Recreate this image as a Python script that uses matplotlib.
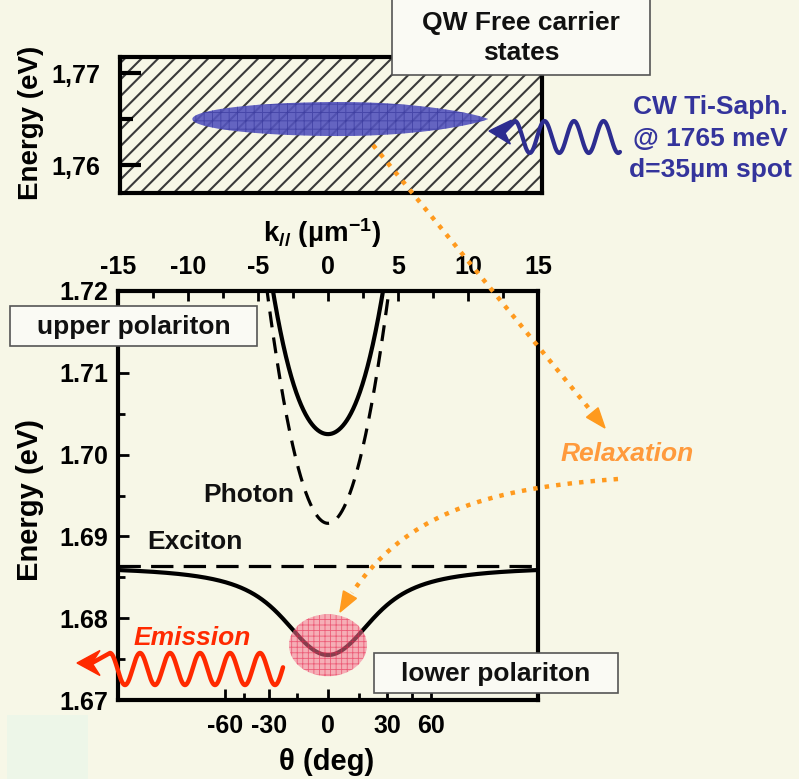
import numpy as np
import matplotlib
matplotlib.use("Agg")
import matplotlib.pyplot as plt
from matplotlib.patches import Ellipse, Rectangle, Polygon

# ---------------- values ----------------
k_ticks = [-15, -10, -5, 0, 5, 10, 15]
k_minor_ticks = [-12.5, -7.5, -2.5, 2.5, 7.5, 12.5]
energy_ticks = [1.67, 1.68, 1.69, 1.70, 1.71, 1.72]
energy_minor_ticks = [1.675, 1.685, 1.695, 1.705, 1.715]
theta_ticks = [-60, -30, 0, 30, 60]
theta_minor_ticks = [-45, -15, 15, 45]
qw_energy_ticks = [1.76, 1.77]
qw_energy_labels = ["1,76", "1,77"]
qw_minor_ticks = [1.765]

exciton_energy = 1.6864      # eV, QW exciton
photon_energy_k0 = 1.6916    # eV, cavity mode at k=0
photon_curvature = 0.0015    # eV um^2, parabolic cavity dispersion
rabi_splitting = 0.0265      # eV
hbar_c = 0.19733             # eV um
pump_energy = 1.765          # eV, CW Ti:Sapphire laser

# ---------------- style ----------------
BG = "#F7F7E7"
BOX = "#FAFAF4"
ORANGE = "#FF9A1E"
RED = "#FF2A00"
NAVY = "#2D2D90"
FONT = "Liberation Sans"

plt.rcParams.update({
    "font.family": FONT,
    "font.weight": "bold",
    "axes.unicode_minus": False,
    "mathtext.fontset": "custom",
    "mathtext.rm": "Liberation Sans:bold",
    "mathtext.it": "Liberation Sans:bold:italic",
    "mathtext.bf": "Liberation Sans:bold",
    "mathtext.default": "rm",
})

W, H = 799, 779
fig = plt.figure(figsize=(W / 100, H / 100), dpi=100, facecolor=BG)


def px_axes(x0, y0, x1, y1, **kw):
    return fig.add_axes([x0 / W, 1 - y1 / H, (x1 - x0) / W, (y1 - y0) / H], **kw)


# ---------------- polariton dispersion ----------------
k = np.linspace(-15, 15, 1501)
e_cav = photon_energy_k0 + photon_curvature * k ** 2
mean = 0.5 * (e_cav + exciton_energy)
half = 0.5 * np.sqrt((e_cav - exciton_energy) ** 2 + rabi_splitting ** 2)
upper = mean + half
lower = mean - half
lp0 = lower[np.argmin(np.abs(k))]
k_light = lp0 / hbar_c          # k = (E/hbar c) sin(theta)

ax = px_axes(118, 291, 538, 700)
ax.set_facecolor("none")
ax.set_xlim(-15, 15)
ax.set_ylim(1.67, 1.72)
axb = ax.twiny()                # emission angle axis (bottom)

ax.plot(k, lower, color="k", lw=3, zorder=2)
ax.plot(k, upper, color="k", lw=3, zorder=2)
ax.plot(k, e_cav, color="k", lw=2.3, dashes=(5, 3.2), zorder=2)
ax.axhline(exciton_energy, color="k", lw=2.3, dashes=(7, 3.2), zorder=2)

# condensed population at the bottom of the lower branch
with plt.rc_context({"hatch.linewidth": 0.6}):
    spot = Ellipse((0, lp0 + 0.0012), 78 / 14, 62 / 8180,
                   facecolor=(0.96, 0.45, 0.56, 0.55), edgecolor=(0.9, 0.15, 0.3, 0.6),
                   hatch="+++", lw=0, zorder=3)
ax.add_patch(spot)

for s in ax.spines.values():
    s.set_linewidth(3)
ax.xaxis.set_ticks_position("top")
ax.xaxis.set_label_position("top")
ax.set_xticks(k_ticks)
ax.set_xticks(k_minor_ticks, minor=True)
ax.set_xticklabels([str(v) for v in k_ticks])
ax.tick_params(axis="x", which="both", direction="in", top=True, bottom=False,
               labeltop=True, labelbottom=False, width=2, labelsize=18, pad=9)
ax.tick_params(axis="x", which="major", length=7)
ax.tick_params(axis="x", which="minor", length=5)
ax.set_yticks(energy_ticks)
ax.set_yticks(energy_minor_ticks, minor=True)
ax.set_yticklabels([f"{v:.2f}" for v in energy_ticks])
ax.tick_params(axis="y", which="both", direction="in", left=True, right=False,
               width=2, labelsize=18, pad=7)
ax.tick_params(axis="y", which="major", length=8)
ax.tick_params(axis="y", which="minor", length=5)

axb.set_xlim(-15, 15)
for s in axb.spines.values():
    s.set_visible(False)
axb.xaxis.set_ticks_position("bottom")
axb.set_xticks(k_light * np.sin(np.radians(theta_ticks)))
axb.set_xticks(k_light * np.sin(np.radians(theta_minor_ticks)), minor=True)
axb.set_xticklabels([str(v) for v in theta_ticks])
axb.tick_params(axis="x", which="both", direction="in", top=False, bottom=True,
                labeltop=False, labelbottom=True, width=2, labelsize=18, pad=10)
axb.tick_params(axis="x", which="major", length=8)
axb.tick_params(axis="x", which="minor", length=5)

# ---------------- QW free-carrier panel ----------------
axq = px_axes(120, 57, 542, 193)
axq.set_facecolor(BG)
axq.set_xlim((120 - 328) / 14, (542 - 328) / 14)
axq.set_ylim(1.75696, 1.77174)
with plt.rc_context({"hatch.linewidth": 1.5}):
    axq.add_patch(Rectangle((0, 0), 1, 1, transform=axq.transAxes, facecolor=BG,
                            edgecolor="#3a3a3a", hatch="//", lw=0, zorder=0))

# pump spot: elliptical on the left, tapering to a point on the right
tt = np.linspace(0, 2 * np.pi, 400)
u = np.cos(tt)
taper = np.where(u > 0, (1 - u ** 2) ** 0.8, np.sqrt(np.clip(1 - u ** 2, 0, None)))
spot_x = 0.86 + 10.55 * u
spot_y = pump_energy + 0.00185 * np.sign(np.sin(tt)) * taper
with plt.rc_context({"hatch.linewidth": 0.7}):
    axq.add_patch(Polygon(np.c_[spot_x, spot_y], closed=True,
                          facecolor=(0.33, 0.33, 0.74, 0.9), edgecolor=(0.2, 0.2, 0.6, 0.6),
                          hatch="++", lw=0, zorder=2))
for s in axq.spines.values():
    s.set_linewidth(3)
axq.set_xticks([])
axq.set_yticks(qw_energy_ticks)
axq.set_yticklabels(qw_energy_labels)
axq.set_yticks(qw_minor_ticks, minor=True)
axq.tick_params(axis="y", which="both", direction="in", width=3, labelsize=18, pad=14)
axq.tick_params(axis="y", which="major", length=15)
axq.tick_params(axis="y", which="minor", length=9)

# ---------------- annotation layer (pixel coordinates) ----------------
ov = px_axes(0, 0, W, H, zorder=10)
ov.set_xlim(0, W)
ov.set_ylim(H, 0)
ov.axis("off")
ov.patch.set_alpha(0)

ov.add_patch(Rectangle((7, 715), 81, 64, facecolor="#EDF6E8", lw=0, zorder=0))


def label_box(x0, y0, x1, y1, lines, ys, size=19):
    ov.add_patch(Rectangle((x0, y0), x1 - x0, y1 - y0, facecolor=BOX,
                           edgecolor="#555555", lw=1.2, zorder=5))
    for t, yc in zip(lines, ys):
        ov.text((x0 + x1) / 2, yc, t, ha="center", va="center",
                fontsize=size, fontweight="bold", color="#111111", zorder=6)


label_box(392, -5, 650, 75, ["QW Free carrier", "states"], [23, 53])
label_box(10, 306, 257, 346, ["upper polariton"], [327])
label_box(374, 653, 618, 693, ["lower polariton"], [674])

ov.text(249, 495, "Photon", ha="center", va="center", fontsize=19, color="#111111")
ov.text(195, 542, "Exciton", ha="center", va="center", fontsize=19, color="#111111")

ov.text(30, 500, "Energy (eV)", rotation=90, ha="center", va="center", fontsize=21)
ov.text(31, 123, "Energy (eV)", rotation=90, ha="center", va="center", fontsize=20)
ov.text(327, 762, "θ (deg)", ha="center", va="center", fontsize=21)
ov.text(322, 233, r"k$_{\mathit{//}}$ (µm$^{-1}$)", ha="center", va="center", fontsize=20)

for i, t in enumerate(["CW Ti-Saph.", "@ 1765 meV", "d=35µm spot"]):
    ov.text(710, 107 + 31.5 * i, t, ha="center", va="center", fontsize=19, color="#34349C")

ov.text(627, 454, "Relaxation", ha="center", va="center", fontsize=19,
        style="italic", color="#FF9A3C")
ov.text(192, 638, "Emission", ha="center", va="center", fontsize=19,
        style="italic", color=RED)


def head(tip, direction, length, width, color, notch=0.0):
    d = np.asarray(direction, float)
    d /= np.hypot(*d)
    n = np.array([-d[1], d[0]])
    tip = np.asarray(tip, float)
    base = tip - d * length
    pts = [tip, base + n * width / 2, tip - d * length * (1 - notch), base - n * width / 2]
    ov.add_patch(Polygon(pts, closed=True, facecolor=color, edgecolor=color,
                         lw=1, zorder=8, joinstyle="miter"))
    return tip - d * length * (1 - notch)


# relaxation: pump -> high-k states
p0 = np.array([373, 145])
tip1 = np.array([605, 428])
d1 = tip1 - p0
b1 = head(tip1, d1, 20, 15, ORANGE)
ov.plot([p0[0], b1[0]], [p0[1], b1[1]], color=ORANGE, lw=3.2, dashes=(1, 1.6),
        dash_capstyle="butt", zorder=7)

# relaxation towards the bottom of the lower branch
P = np.array([[618, 479], [480, 489], [395, 516], [340, 612]], float)
t = np.linspace(0, 0.93, 200)[:, None]
curve = ((1 - t) ** 3 * P[0] + 3 * (1 - t) ** 2 * t * P[1]
         + 3 * (1 - t) * t ** 2 * P[2] + t ** 3 * P[3])
head(P[3], P[3] - P[2], 20, 15, ORANGE)
ov.plot(curve[:, 0], curve[:, 1], color=ORANGE, lw=3.2, dashes=(1, 1.6),
        dash_capstyle="butt", zorder=7)

# pump photon (blue wave)
notch_b = head((489, 131), (-1, -0.05), 22, 24, NAVY, notch=0.3)
xw = np.linspace(515, 620, 400)
yw = 137 - 16 * np.cos(2 * np.pi * (xw - 515) / 29.5)
ov.plot(np.r_[notch_b[0], xw], np.r_[notch_b[1], yw], color=NAVY, lw=3,
        solid_joinstyle="round", solid_capstyle="round", zorder=9)

# emitted photon (red wave)
notch_r = head((77, 663), (-1, 0), 23, 25, RED, notch=0.35)
xr = np.linspace(110, 283, 600)
yr = 669 - 16 * np.cos(2 * np.pi * (xr - 110) / 30)
ov.plot(np.r_[notch_r[0], xr], np.r_[notch_r[1], yr], color=RED, lw=3.2,
        solid_joinstyle="round", solid_capstyle="round", zorder=9)

fig.savefig("out.png", dpi=100, facecolor=BG)
